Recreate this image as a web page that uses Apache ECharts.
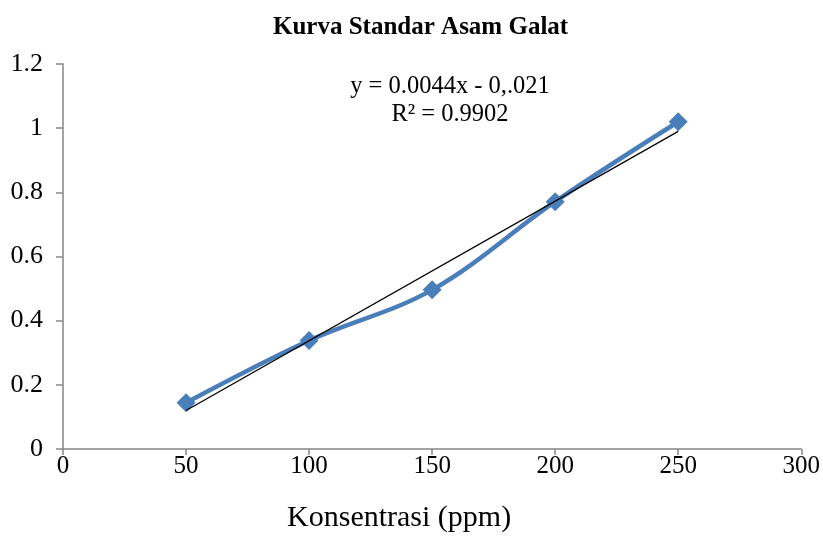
<!DOCTYPE html>
<html>
<head>
<meta charset="utf-8">
<script src="https://cdn.jsdelivr.net/npm/echarts@6/dist/echarts.min.js"></script>
<style>html,body{margin:0;padding:0;background:#fff}#c{width:823px;height:538px}</style>
</head>
<body>
<div id="c"></div>
<script>
var concentrations = [50, 100, 150, 200, 250];
var absorbances = [0.144, 0.338, 0.496, 0.771, 1.02];
var trendX = [50, 250];
var trendY = [0.12, 0.99];
var xTicks = [0, 50, 100, 150, 200, 250, 300];
var yTicks = [0, 0.2, 0.4, 0.6, 0.8, 1, 1.2];
var equationLines = ['y = 0.0044x - 0,.021', 'R² = 0.9902'];

var font = '"Liberation Serif", "Times New Roman", serif';
var chart = echarts.init(document.getElementById('c'));
chart.setOption({
  animation: false,
  backgroundColor: '#fff',
  title: {
    text: 'Kurva Standar Asam Galat',
    left: 268,
    top: 10,
    textStyle: { fontFamily: font, fontSize: 25, fontWeight: 'bold', color: '#000' }
  },
  grid: { left: 63, right: 21, top: 64, bottom: 88 },
  xAxis: {
    type: 'value',
    min: xTicks[0], max: xTicks[xTicks.length - 1], interval: 50,
    name: 'Konsentrasi (ppm)',
    nameLocation: 'middle',
    nameGap: 54,
    nameTextStyle: { fontFamily: font, fontSize: 30, color: '#000', padding: [0, 66, 0, 0] },
    axisLine: { lineStyle: { color: '#868686', width: 1.5 } },
    axisTick: { show: true, length: 6, lineStyle: { color: '#868686', width: 1.5 } },
    axisLabel: { fontFamily: font, fontSize: 25, color: '#000', margin: 5 },
    splitLine: { show: false }
  },
  yAxis: {
    type: 'value',
    min: yTicks[0], max: yTicks[yTicks.length - 1], interval: 0.2,
    axisLine: { show: true, lineStyle: { color: '#868686', width: 1.5 } },
    axisTick: { show: true, length: 7, lineStyle: { color: '#868686', width: 1.5 } },
    axisLabel: { fontFamily: font, fontSize: 26, color: '#000', margin: 20,
      formatter: function (v) { return String(Math.round(v * 10) / 10); } },
    splitLine: { show: false }
  },
  graphic: [{
    type: 'text',
    x: 450, y: 73,
    style: { text: equationLines.join('\n'), fontFamily: font, fontSize: 24.5, fill: '#000', align: 'center', verticalAlign: 'top', lineHeight: 28 }
  }],
  series: [
    {
      type: 'line',
      data: concentrations.map(function (x, i) { return [x, absorbances[i]]; }),
      smooth: 0.35,
      symbol: 'diamond',
      symbolSize: 19,
      lineStyle: { color: '#4a7ebb', width: 4.5 },
      itemStyle: { color: '#4a7ebb' },
      z: 2
    },
    {
      type: 'line',
      data: trendX.map(function (x, i) { return [x, trendY[i]]; }),
      symbol: 'none',
      lineStyle: { color: '#000', width: 1.3 },
      z: 3
    }
  ]
});
</script>
</body>
</html>
